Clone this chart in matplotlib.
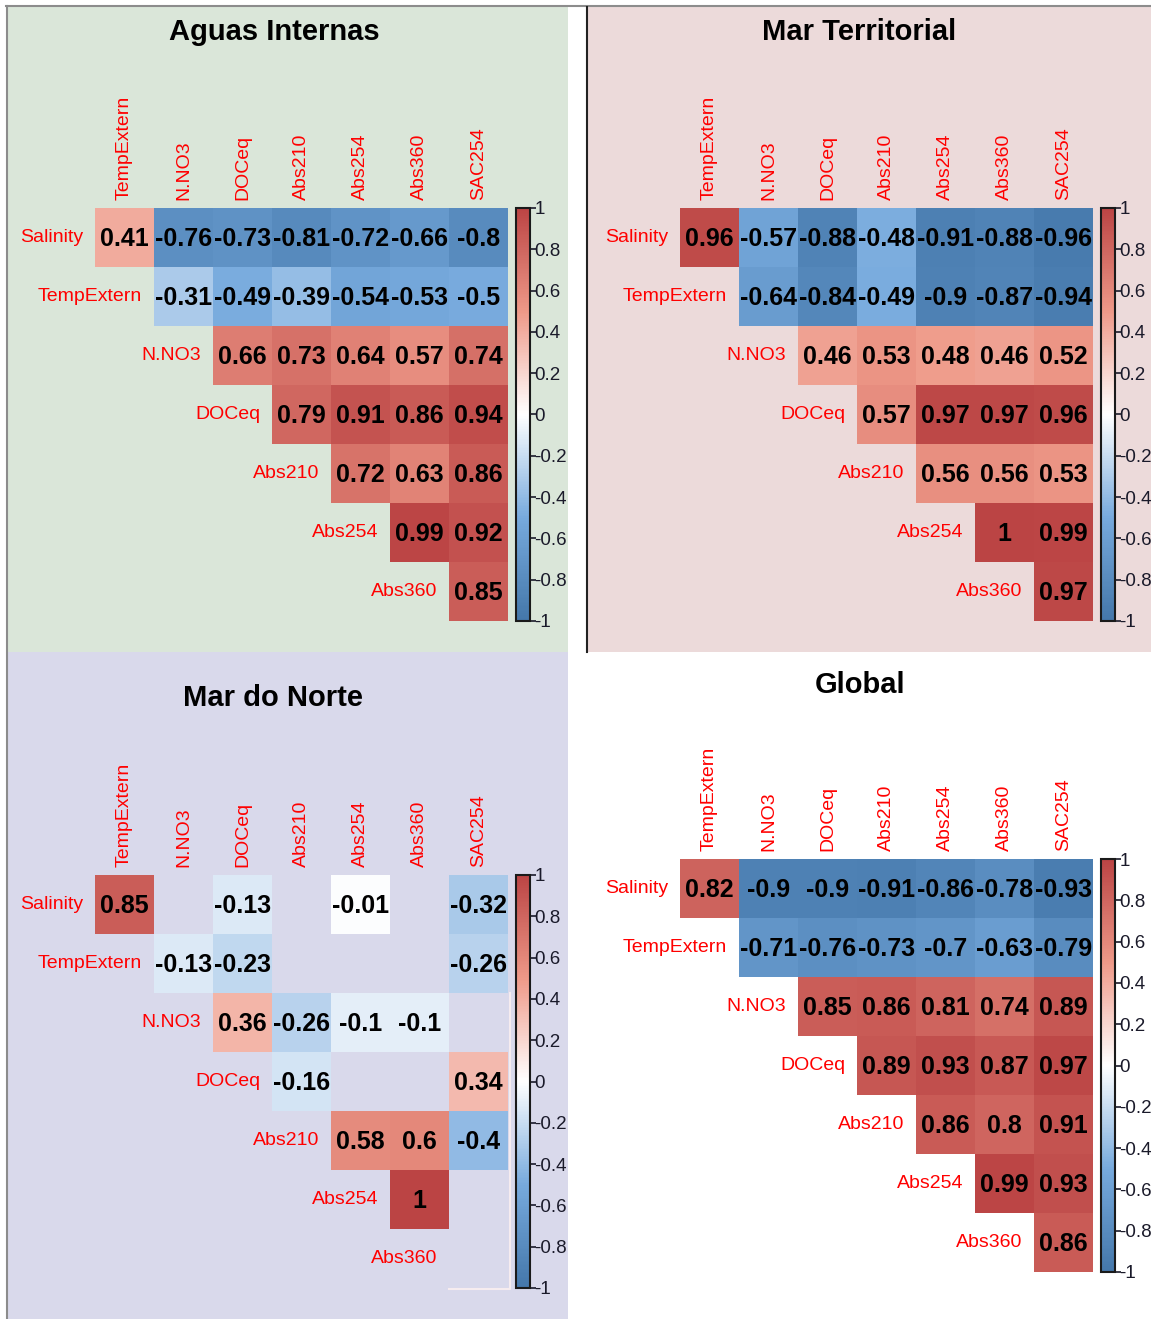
import numpy as np
import matplotlib.pyplot as plt
from matplotlib.colors import LinearSegmentedColormap, Normalize
from matplotlib.cm import ScalarMappable
from matplotlib.patches import Rectangle
from matplotlib.lines import Line2D

plt.rcParams['font.family'] = ['Liberation Sans', 'DejaVu Sans']

# Variables del triángulo superior de la matriz de correlación
filas = ['Salinity', 'TempExtern', 'N.NO3', 'DOCeq', 'Abs210', 'Abs254', 'Abs360']
columnas = ['TempExtern', 'N.NO3', 'DOCeq', 'Abs210', 'Abs254', 'Abs360', 'SAC254']

nan = np.nan

# Correlaciones (nan = triángulo inferior o no significativo)
aguas_internas = [
    [0.41, -0.76, -0.73, -0.81, -0.72, -0.66, -0.8],
    [nan, -0.31, -0.49, -0.39, -0.54, -0.53, -0.5],
    [nan, nan, 0.66, 0.73, 0.64, 0.57, 0.74],
    [nan, nan, nan, 0.79, 0.91, 0.86, 0.94],
    [nan, nan, nan, nan, 0.72, 0.63, 0.86],
    [nan, nan, nan, nan, nan, 0.99, 0.92],
    [nan, nan, nan, nan, nan, nan, 0.85],
]

mar_territorial = [
    [0.96, -0.57, -0.88, -0.48, -0.91, -0.88, -0.96],
    [nan, -0.64, -0.84, -0.49, -0.9, -0.87, -0.94],
    [nan, nan, 0.46, 0.53, 0.48, 0.46, 0.52],
    [nan, nan, nan, 0.57, 0.97, 0.97, 0.96],
    [nan, nan, nan, nan, 0.56, 0.56, 0.53],
    [nan, nan, nan, nan, nan, 1.0, 0.99],
    [nan, nan, nan, nan, nan, nan, 0.97],
]

mar_do_norte = [
    [0.85, nan, -0.13, nan, -0.01, nan, -0.32],
    [nan, -0.13, -0.23, nan, nan, nan, -0.26],
    [nan, nan, 0.36, -0.26, -0.1, -0.1, nan],
    [nan, nan, nan, -0.16, nan, nan, 0.34],
    [nan, nan, nan, nan, 0.58, 0.6, -0.4],
    [nan, nan, nan, nan, nan, 1.0, nan],
    [nan, nan, nan, nan, nan, nan, nan],
]

global_ = [
    [0.82, -0.9, -0.9, -0.91, -0.86, -0.78, -0.93],
    [nan, -0.71, -0.76, -0.73, -0.7, -0.63, -0.79],
    [nan, nan, 0.85, 0.86, 0.81, 0.74, 0.89],
    [nan, nan, nan, 0.89, 0.93, 0.87, 0.97],
    [nan, nan, nan, nan, 0.86, 0.8, 0.91],
    [nan, nan, nan, nan, nan, 0.99, 0.93],
    [nan, nan, nan, nan, nan, nan, 0.86],
]

titulos = ['Aguas Internas', 'Mar Territorial', 'Mar do Norte', 'Global']
matrices = [aguas_internas, mar_territorial, mar_do_norte, global_]

# Paleta tipo corrplot (azul - blanco - rojo)
cmap = LinearSegmentedColormap.from_list(
    'corr', ['#4477AA', '#77AADD', '#FFFFFF', '#EE9988', '#BB4444'])
norm = Normalize(vmin=-1, vmax=1)

W, H = 1151, 1319
CELDA = 59


def rect_fig(x, y, w, h):
    # convierte píxeles (origen arriba-izquierda) a fracción de figura
    return [x / W, 1 - (y + h) / H, w / W, h / H]


fig = plt.figure(figsize=(W / 100, H / 100), dpi=100, facecolor='white')

# Fondos de cada panel
fondos = [(8, 7, 560, 645, '#dae6d9'),
          (587, 7, 564, 645, '#ecdada'),
          (8, 652, 560, 667, '#d9d9eb')]
for x, y, w, h, c in fondos:
    r = rect_fig(x, y, w, h)
    fig.add_artist(Rectangle((r[0], r[1]), r[2], r[3], transform=fig.transFigure,
                             facecolor=c, edgecolor='none', zorder=-2))

# Bordes
fig.add_artist(Line2D([6 / W, 1], [1 - 5.5 / H, 1 - 5.5 / H], transform=fig.transFigure,
                      color='#8c8c8c', lw=1.5, zorder=-1))
fig.add_artist(Line2D([6.5 / W, 6.5 / W], [0, 1 - 5.5 / H], transform=fig.transFigure,
                      color='#8c8c8c', lw=1.5, zorder=-1))
fig.add_artist(Line2D([586.5 / W, 586.5 / W], [1 - 652 / H, 1 - 7 / H],
                      transform=fig.transFigure, color='#222222', lw=1.5, zorder=-1))

# posición de la esquina superior izquierda de las celdas y del título
posiciones = [(95, 208, 274, 32), (680, 208, 859, 32),
              (95, 875, 273, 698), (680, 859, 860, 685)]

for titulo, matriz, (x0, y0, tx, ty) in zip(titulos, matrices, posiciones):
    m = np.ma.masked_invalid(np.array(matriz, dtype=float))
    n = m.shape[0]

    ax = fig.add_axes(rect_fig(x0, y0, n * CELDA, n * CELDA))
    ax.pcolormesh(np.arange(n + 1), np.arange(n + 1), m, cmap=cmap, norm=norm)
    ax.set_xlim(0, n)
    ax.set_ylim(n, 0)
    ax.axis('off')
    ax.patch.set_visible(False)

    for i in range(n):
        for j in range(n):
            if not m.mask[i, j]:
                ax.text(j + 0.5, i + 0.53, f'{m[i, j]:g}', ha='center', va='center',
                        fontsize=18, fontweight='bold', color='black')

    for j, nombre in enumerate(columnas):
        ax.text(j + 0.5, -0.13, nombre, rotation=90, ha='center', va='bottom',
                color='red', fontsize=14, clip_on=False)
    for i, nombre in enumerate(filas):
        ax.text(i - 0.2, i + 0.5, nombre, ha='right', va='center',
                color='red', fontsize=14, clip_on=False)

    # contorno claro de las celdas vacías de la última columna
    if titulo == 'Mar do Norte':
        ax.plot([n - 1, n + 0.03, n + 0.03], [n + 0.02, n + 0.02, 2], color='#f6ecef',
                lw=1.5, clip_on=False)

    # Barra de color
    cax = fig.add_axes(rect_fig(x0 + n * CELDA + 8, y0, 14, n * CELDA))
    cb = fig.colorbar(ScalarMappable(norm=norm, cmap=cmap), cax=cax,
                      ticks=np.linspace(-1, 1, 11))
    cb.ax.set_yticklabels([f'{round(t, 1) + 0.0:g}' for t in np.linspace(-1, 1, 11)])
    cb.outline.set_linewidth(1.5)
    cb.outline.set_edgecolor('#1a1a1a')
    cax.tick_params(length=4, width=1.2, pad=-1, labelsize=13.5, colors='#1a1a2a')

    fig.text(tx / W, 1 - ty / H, titulo, ha='center', va='center',
             fontsize=21, fontweight='bold')

fig.savefig('out.png', dpi=100)
